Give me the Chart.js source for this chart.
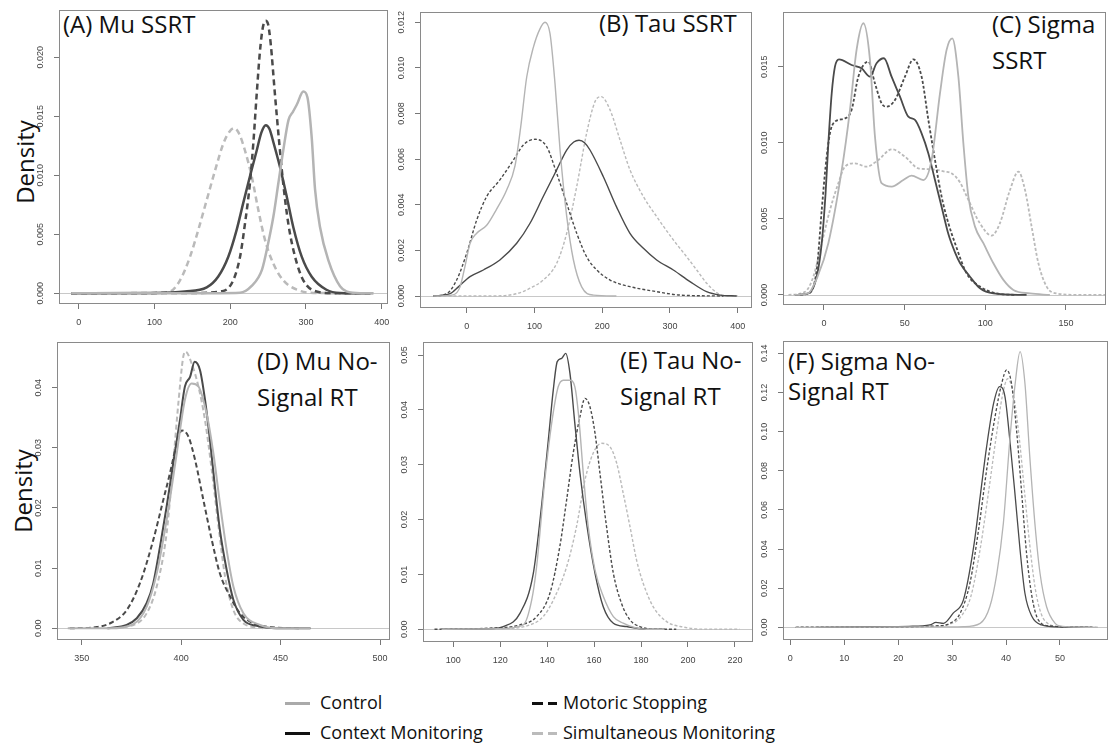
<!DOCTYPE html>
<html>
<head>
<meta charset="utf-8">
<script src="https://cdn.jsdelivr.net/npm/chart.js@4.4.1/dist/chart.umd.min.js"></script>
<style>
  body { margin: 0; width: 1108px; height: 746px; overflow: hidden; background: #fff; font-family: "Open Sans", sans-serif; color: #111; }
  canvas { position: absolute; }
  .title { position: absolute; font-size: 24px; line-height: 36px; white-space: nowrap; }
  .dens { position: absolute; width: 120px; font-size: 24px; line-height: 36px; text-align: center; transform: rotate(-90deg); }
  .leg { position: absolute; font-size: 18px; line-height: 20px; white-space: nowrap; }
  .sw { position: absolute; height: 3px; }
</style>
</head>
<body>

<div class="dens" style="left:-35px;top:144px">Density</div>
<div class="dens" style="left:-37px;top:473px">Density</div>

<div class="title" style="left:63px;top:6px">(A) Mu SSRT</div>
<div class="title" style="left:599px;top:5px">(B) Tau SSRT</div>
<div class="title" style="left:992px;top:6px">(C) Sigma<br>SSRT</div>
<div class="title" style="left:257px;top:343px">(D) Mu No-<br>Signal RT</div>
<div class="title" style="left:620px;top:342px">(E) Tau No-<br>Signal RT</div>
<div class="title" style="left:788px;top:346px;line-height:30px">(F) Sigma No-<br>Signal RT</div>

<div class="sw" style="left:285px;top:702px;width:25px;background:#aaa"></div>
<div class="leg" style="left:320px;top:692px">Control</div>
<div class="sw" style="left:285px;top:732px;width:25px;background:#111"></div>
<div class="leg" style="left:320px;top:722px">Context Monitoring</div>
<div class="sw" style="left:532px;top:702px;width:11px;background:#111"></div>
<div class="sw" style="left:548px;top:702px;width:9px;background:#111"></div>
<div class="leg" style="left:563px;top:692px">Motoric Stopping</div>
<div class="sw" style="left:532px;top:732px;width:11px;background:#bbb"></div>
<div class="sw" style="left:548px;top:732px;width:9px;background:#bbb"></div>
<div class="leg" style="left:563px;top:722px">Simultaneous Monitoring</div>

<script>
// series: [x, density]
const groups = ['Control', 'Context Monitoring', 'Motoric Stopping', 'Simultaneous Monitoring'];

// (A) Mu SSRT
const muControl = [[-10,0],[150,0],[213,0.00005],[228,0.0006],[242,0.002],[250,0.0042],[257,0.0065],[263.5,0.0093],[270,0.0121],[277,0.0147],[283,0.0154],[288,0.016],[296.5,0.0171],[302,0.0166],[307.6,0.0132],[312,0.0088],[318.6,0.0056],[329.5,0.0028],[345,0.0006],[362,0.00005],[389,0]];
const muContext = [[-10,0],[100,0.00003],[140,0.00015],[169,0.0005],[184,0.0014],[197.5,0.0031],[208.6,0.0054],[217,0.0076],[226,0.0099],[235,0.0121],[241,0.0136],[247,0.01425],[252,0.0139],[257,0.0128],[265.7,0.0107],[274.6,0.0082],[283.3,0.0056],[294.4,0.0031],[307.6,0.0014],[327,0.0003],[345,0.00003],[385,0]];
const muMotoric = [[-10,0],[150,0.00002],[191,0.0002],[204,0.0011],[213,0.0031],[219.5,0.0059],[226,0.0093],[230.5,0.0127],[235,0.0169],[239.4,0.0206],[243,0.0225],[246.9,0.0231],[250,0.0228],[253.4,0.0212],[259,0.0169],[264.8,0.0127],[270,0.0093],[276.7,0.0059],[285.6,0.0031],[296.5,0.0011],[314,0.00015],[340,0],[389,0]];
const muSimul = [[-10,0],[100,0.00002],[120.5,0.00015],[133.7,0.0011],[147,0.0031],[158,0.0054],[169,0.0079],[180,0.0104],[191,0.0127],[199,0.0137],[205.5,0.014],[212,0.0135],[219.5,0.0121],[228.4,0.0099],[237,0.0071],[246,0.0045],[257,0.0025],[270,0.0011],[288,0.0003],[310,0.00003],[389,0]];
const muXTicks = [0, 100, 200, 300, 400];
const muYTicks = ['0.000', '0.005', '0.010', '0.015', '0.020'];

// (B) Tau SSRT
const tauControl = [[-49,0],[-20,0.00005],[-9.8,0.0004],[-2.5,0.0013],[4.9,0.0023],[14.8,0.00275],[29.5,0.0031],[44,0.0038],[59,0.00465],[71.3,0.0057],[79.7,0.0074],[88.6,0.0096],[98.4,0.0109],[108,0.0117],[115.6,0.012],[123,0.0115],[130.4,0.0093],[137.8,0.0064],[147.6,0.0035],[157.4,0.0016],[169.7,0.0004],[187,0.00004],[221,0]];
const tauContext = [[-49,0],[-24.6,0.0001],[-12.3,0.0004],[4.9,0.00085],[24.6,0.00114],[49,0.00158],[73.8,0.00231],[93.5,0.00319],[113,0.00436],[132.8,0.00553],[147.6,0.0064],[158,0.00675],[165.8,0.00683],[174,0.00672],[182,0.0064],[201.7,0.00523],[221,0.00392],[241,0.00275],[260.8,0.00209],[280.4,0.00158],[305,0.00114],[329.6,0.00063],[354,0.00019],[374,0.00004],[398.5,0]];
const tauMotoric = [[-49,0],[-29.5,0.0001],[-14.8,0.0007],[0,0.00187],[14.8,0.00333],[29.5,0.00436],[49,0.00509],[69,0.00596],[83.6,0.00662],[100.9,0.00687],[118,0.00655],[132.8,0.00538],[147.6,0.00406],[162.4,0.00275],[177,0.00172],[192,0.00114],[211.6,0.0007],[241,0.00041],[280.4,0.00019],[315,0.00004],[379,0]];
const tauSimul = [[-49,0],[34.4,0],[73.8,0.0001],[93.5,0.00034],[113,0.0007],[132.8,0.00143],[147.6,0.00275],[162.4,0.0048],[177,0.00713],[189.4,0.00852],[198.3,0.00874],[211.6,0.00816],[226.3,0.00684],[241,0.00553],[260.8,0.00436],[280.4,0.00348],[305,0.00246],[324.7,0.00172],[339.5,0.00114],[354.2,0.00056],[369,0.00015],[379,0.00002],[400,0]];
const tauXTicks = [0, 100, 200, 300, 400];
const tauYTicks = ['0.000', '0.002', '0.004', '0.006', '0.008', '0.010', '0.012'];

// (C) Sigma SSRT
const sigControl = [[-18,0],[-10,0.0001],[-4,0.0012],[2.7,0.0034],[11,0.0082],[16.1,0.01215],[20.2,0.0161],[24.4,0.01785],[28.5,0.01544],[31.6,0.0104],[35.7,0.00734],[42,0.00712],[49.2,0.00755],[54.3,0.00784],[61.6,0.00755],[66.7,0.00887],[71.9,0.01325],[76,0.0161],[79.5,0.01686],[83.3,0.01434],[86.4,0.00996],[89.5,0.00646],[93.6,0.00449],[98.8,0.0034],[105,0.00208],[111.2,0.00099],[117.4,0.00033],[127.7,0.0001],[140,0]];
const sigContext = [[-18,0],[-9.7,0.0001],[-4.5,0.0012],[-1.4,0.0034],[1,0.0067],[2.7,0.00996],[4.8,0.01325],[6.8,0.015],[9.3,0.01548],[17.1,0.01511],[23.3,0.01489],[28.5,0.01434],[32.6,0.01522],[37.2,0.01555],[41.9,0.01434],[47.1,0.01303],[52.3,0.01171],[56.4,0.0115],[60.5,0.01062],[64.7,0.0093],[68.8,0.00755],[72.9,0.0058],[77.1,0.004],[81.2,0.0028],[84.3,0.0021],[90.5,0.0012],[96.7,0.00044],[105,0.0001],[125.6,0]];
const sigMotoric = [[-18,0],[-9.7,0.0001],[-4.5,0.00164],[-1.4,0.00558],[1,0.00843],[3.7,0.01062],[6.8,0.01139],[13,0.0116],[17.1,0.01215],[21.3,0.01434],[27.5,0.01533],[31.6,0.0139],[35.7,0.01259],[38.8,0.01237],[44,0.01281],[50.2,0.01434],[55.4,0.01548],[60.5,0.01434],[64.7,0.0115],[68.8,0.00887],[72.9,0.00646],[77.1,0.00471],[81.2,0.0034],[88.4,0.00142],[96.7,0.00055],[107,0.0001],[119,0]];
const sigSimul = [[-22,0],[-11.8,0.0002],[-6.6,0.0012],[-1.4,0.0034],[3.7,0.00558],[8.9,0.00734],[13,0.00843],[19.2,0.00865],[26.4,0.00843],[33.7,0.00887],[42,0.00957],[50.2,0.00909],[58.5,0.00832],[66.7,0.00826],[75,0.0081],[79,0.008],[84.3,0.0074],[88.4,0.0065],[96.7,0.0047],[103.9,0.0039],[109,0.0047],[115.3,0.0069],[120.5,0.0081],[124.6,0.0069],[128.7,0.00449],[132.9,0.00208],[138,0.00055],[144,0.0001],[160,0],[175,0]];
const sigXTicks = [0, 50, 100, 150];
const sigYTicks = ['0.000', '0.005', '0.010', '0.015'];

// (D) Mu No-Signal RT
const muNsControl = [[343,0],[364,0],[376,0.0007],[382.7,0.0036],[387.7,0.0091],[392.7,0.018],[397.8,0.0291],[401.9,0.038],[405.3,0.0407],[408.7,0.0402],[412.8,0.0357],[416.2,0.0291],[419.5,0.0208],[422.9,0.013],[426.3,0.0069],[431.3,0.0025],[439.7,0.00055],[449.7,0],[465,0]];
const muNsContext = [[363,0],[372.6,0.00055],[377.7,0.00166],[382.7,0.0042],[386,0.0075],[389.4,0.0136],[392.7,0.0202],[396,0.0274],[399.4,0.0346],[401.9,0.0402],[404.5,0.0418],[406.8,0.0443],[409.5,0.0429],[412,0.038],[414.5,0.0313],[417,0.0235],[419.5,0.0163],[422.9,0.0097],[426.3,0.0047],[431.3,0.0014],[438,0.0004],[448,0],[465,0]];
const muNsMotoric = [[344,0],[357.5,0.0002],[365.9,0.0011],[372.6,0.003],[379.3,0.0075],[386,0.0147],[391,0.0213],[394.4,0.0258],[397.8,0.0307],[400.3,0.0329],[403.6,0.0319],[407,0.028],[411.2,0.0213],[415.4,0.0147],[419.5,0.0091],[424.6,0.0053],[429.6,0.0025],[436.3,0.0008],[444.7,0.0002],[460,0]];
const muNsSimul = [[362.6,0],[376,0.00055],[382.7,0.0025],[387.7,0.0069],[392.7,0.0158],[396,0.0274],[398.6,0.0374],[401.1,0.0452],[402.3,0.046],[405.3,0.044],[408.7,0.0402],[412,0.0346],[415.4,0.0263],[418.8,0.0169],[422.1,0.0086],[426.3,0.003],[431.3,0.0008],[441.3,0]];
const muNsXTicks = [350, 400, 450, 500];
const muNsYTicks = ['0.00', '0.01', '0.02', '0.03', '0.04'];

// (E) Tau No-Signal RT
const tauNsControl = [[95,0],[120,0.0001],[129.8,0.0008],[133.4,0.0053],[135.5,0.0114],[139,0.0272],[141.9,0.0375],[144.7,0.0442],[146.9,0.0454],[149.7,0.0454],[151.8,0.0442],[153.3,0.0394],[155.4,0.0284],[157.5,0.0187],[160.4,0.0108],[163.9,0.006],[168.2,0.0023],[172.4,0.0011],[176.7,0.0004],[182.4,0],[190,0]];
const tauNsContext = [[95,0],[115,0.0001],[121.3,0.0005],[128.4,0.0029],[134.1,0.0102],[137.6,0.0224],[140.5,0.0345],[142.6,0.0436],[144.3,0.0488],[146.2,0.0494],[147.9,0.0503],[149.7,0.0467],[151.8,0.0375],[154,0.0284],[156.8,0.0193],[160.4,0.0102],[163.9,0.0041],[168.2,0.0011],[173.8,0.0005],[182.4,0],[190,0]];
const tauNsMotoric = [[92,0],[115,0.0002],[128.4,0.0008],[135.5,0.0023],[141.2,0.0066],[145.4,0.0151],[148.3,0.0236],[151.1,0.0321],[154,0.0388],[156.1,0.0421],[158.2,0.0406],[160.4,0.0357],[162.5,0.0284],[165.3,0.0187],[168.2,0.0102],[171.7,0.0047],[175.3,0.0017],[179.5,0.0005],[186.6,0],[195,0]];
const tauNsSimul = [[95,0],[120,0.0001],[132.7,0.0008],[138.3,0.0023],[142.6,0.0053],[148.3,0.0114],[152.5,0.0187],[156.1,0.0272],[159.6,0.0321],[163.2,0.0339],[166.7,0.0333],[169.6,0.0303],[172.4,0.0248],[175.3,0.0187],[178.1,0.0126],[180.9,0.0084],[185.2,0.0041],[190.9,0.0014],[198,0.0004],[208,0],[222,0]];
const tauNsXTicks = [100, 120, 140, 160, 180, 200, 220];
const tauNsYTicks = ['0.00', '0.01', '0.02', '0.03', '0.04', '0.05'];

// (F) Sigma No-Signal RT
const sigNsControl = [[1,0],[20,0.0002],[30,0.0002],[32.1,0.0003],[35.2,0.002],[37,0.0106],[38.3,0.0276],[39.5,0.0531],[40.7,0.0957],[41.7,0.1247],[42.6,0.1409],[43.5,0.1247],[44.4,0.0872],[45.4,0.0514],[46.3,0.0276],[47.5,0.0106],[49.1,0.002],[50,0.0007],[53,0.0001],[57,0]];
const sigNsContext = [[5,0],[15,0.0003],[22,0.0005],[25.9,0.0012],[27,0.0025],[28.4,0.002],[30.2,0.0072],[32.1,0.014],[34,0.0412],[35.2,0.0668],[36.4,0.0923],[37.7,0.1145],[38.8,0.123],[39.8,0.1179],[40.7,0.0957],[41.7,0.0668],[42.6,0.0395],[43.5,0.0174],[44.8,0.0055],[46.6,0.0012],[49.4,0.0002],[56,0]];
const sigNsMotoric = [[1,0],[20,0.0002],[27,0.0007],[29.6,0.002],[31.5,0.0072],[33.3,0.0225],[34.9,0.0497],[36.4,0.0804],[37.96,0.1076],[39.2,0.1247],[40.1,0.1315],[41,0.1247],[42,0.0991],[42.9,0.0685],[43.8,0.0378],[44.8,0.0157],[46,0.0037],[48.1,0.0007],[56,0]];
const sigNsSimul = [[1,0],[20,0.0002],[27,0.0005],[29.5,0.0015],[31.5,0.005],[33.5,0.016],[35.2,0.04],[36.8,0.07],[38.2,0.098],[39.3,0.118],[40.3,0.127],[41.3,0.12],[42.4,0.098],[43.4,0.07],[44.4,0.042],[45.4,0.02],[46.5,0.007],[48,0.0015],[50,0.0003],[57,0]];
const sigNsXTicks = [0, 10, 20, 30, 40, 50];
const sigNsYTicks = ['0.00', '0.02', '0.04', '0.06', '0.08', '0.10', '0.12', '0.14'];

const colors = ['#b4b4b4', '#4a4a4a', '#4a4a4a', '#bababa'];
const solid = [true, true, false, false];

// box = page pixels of the plot frame [left, top, right, bottom]
const panels = [
  { box: [59, 10, 388, 304], x: [-26, 408.3], y: [-0.00091, 0.02401], xt: muXTicks, yt: muYTicks, lw: 2.5, dash: [6, 4], series: [muControl, muContext, muMotoric, muSimul] },
  { box: [420, 12, 752, 308], x: [-68.9, 421.1], y: [-0.000526, 0.01245], xt: tauXTicks, yt: tauYTicks, lw: 1.4, dash: [3, 2], series: [tauControl, tauContext, tauMotoric, tauSimul] },
  { box: [783, 12, 1106, 305], x: [-25.4, 174.8], y: [-0.00066, 0.01859], xt: sigXTicks, yt: sigYTicks, lw: 1.8, dash: [3, 2], series: [sigControl, sigContext, sigMotoric, sigSimul] },
  { box: [57, 342, 390, 640], x: [337.6, 505], y: [-0.00195, 0.0476], xt: muNsXTicks, yt: muNsYTicks, lw: 2, dash: [5, 3], series: [muNsControl, muNsContext, muNsMotoric, muNsSimul] },
  { box: [423, 342, 753, 642], x: [87.1, 227.7], y: [-0.00232, 0.05237], xt: tauNsXTicks, yt: tauNsYTicks, lw: 1.4, dash: [3, 2], series: [tauNsControl, tauNsContext, tauNsMotoric, tauNsSimul] },
  { box: [783, 341, 1108, 640], x: [-1.35, 58.9], y: [-0.0065, 0.1463], xt: sigNsXTicks, yt: sigNsYTicks, lw: 1.3, dash: [3, 2], series: [sigNsControl, sigNsContext, sigNsMotoric, sigNsSimul] }
];

const tickFont = { family: 'Liberation Sans', size: 9 };

const framePlugin = {
  id: 'frame',
  beforeDatasetsDraw(chart) {
    const { ctx, chartArea: a, scales } = chart;
    const y0 = Math.round(scales.y.getPixelForValue(0)) + 0.5;
    ctx.save();
    ctx.strokeStyle = '#c8c8c8';
    ctx.lineWidth = 1;
    ctx.beginPath();
    ctx.moveTo(a.left, y0);
    ctx.lineTo(a.right, y0);
    ctx.stroke();
    ctx.restore();
  },
  afterDraw(chart) {
    const { ctx, chartArea: a, scales } = chart;
    ctx.save();
    ctx.strokeStyle = '#8a8a8a';
    ctx.lineWidth = 1;
    ctx.strokeRect(a.left + 0.5, a.top + 0.5, a.right - a.left - 1, a.bottom - a.top - 1);
    // y tick labels run along the axis, as in R
    ctx.fillStyle = '#444';
    ctx.font = '9px "Liberation Sans"';
    ctx.textAlign = 'center';
    ctx.textBaseline = 'middle';
    scales.y.ticks.forEach(t => {
      const py = scales.y.getPixelForValue(t.value);
      ctx.save();
      ctx.translate(a.left - 18, py);
      ctx.rotate(-Math.PI / 2);
      ctx.fillText(t.label, 0, 0);
      ctx.restore();
    });
    ctx.restore();
  }
};

panels.forEach(p => {
  const [l, t, r, b] = p.box;
  const canvas = document.createElement('canvas');
  canvas.width = r - l + 72;
  canvas.height = b - t + 42;
  canvas.style.left = (l - 62) + 'px';
  canvas.style.top = (t - 12) + 'px';
  document.body.appendChild(canvas);

  new Chart(canvas, {
    type: 'line',
    data: {
      datasets: p.series.map((s, i) => ({
        label: groups[i],
        data: s.map(([x, y]) => ({ x, y })),
        borderColor: colors[i],
        borderWidth: p.lw,
        borderDash: solid[i] ? [] : p.dash,
        cubicInterpolationMode: 'monotone',
        pointRadius: 0,
        fill: false
      }))
    },
    options: {
      responsive: false,
      animation: false,
      layout: { padding: { left: 2, top: 12, right: 10, bottom: 0 } },
      plugins: {
        legend: { display: false },
        tooltip: { enabled: false }
      },
      scales: {
        x: {
          type: 'linear',
          min: p.x[0],
          max: p.x[1],
          border: { display: false },
          grid: { drawOnChartArea: false, drawTicks: true, tickLength: 5, color: '#777' },
          ticks: { autoSkip: false, maxRotation: 0, padding: 8, font: tickFont, color: '#444', callback: v => String(v) },
          afterBuildTicks(s) { s.ticks = p.xt.map(v => ({ value: v })); },
          afterFit(s) { s.height = 30; s.paddingLeft = 0; s.paddingRight = 0; }
        },
        y: {
          min: p.y[0],
          max: p.y[1],
          border: { display: false },
          grid: { drawOnChartArea: false, drawTicks: true, tickLength: 5, color: '#777' },
          ticks: { display: false, callback: (v, i) => p.yt[i] },
          afterBuildTicks(s) { s.ticks = p.yt.map(v => ({ value: parseFloat(v) })); },
          afterFit(s) { s.width = 60; s.paddingTop = 0; s.paddingBottom = 0; }
        }
      }
    },
    plugins: [framePlugin]
  });
});
</script>
</body>
</html>
